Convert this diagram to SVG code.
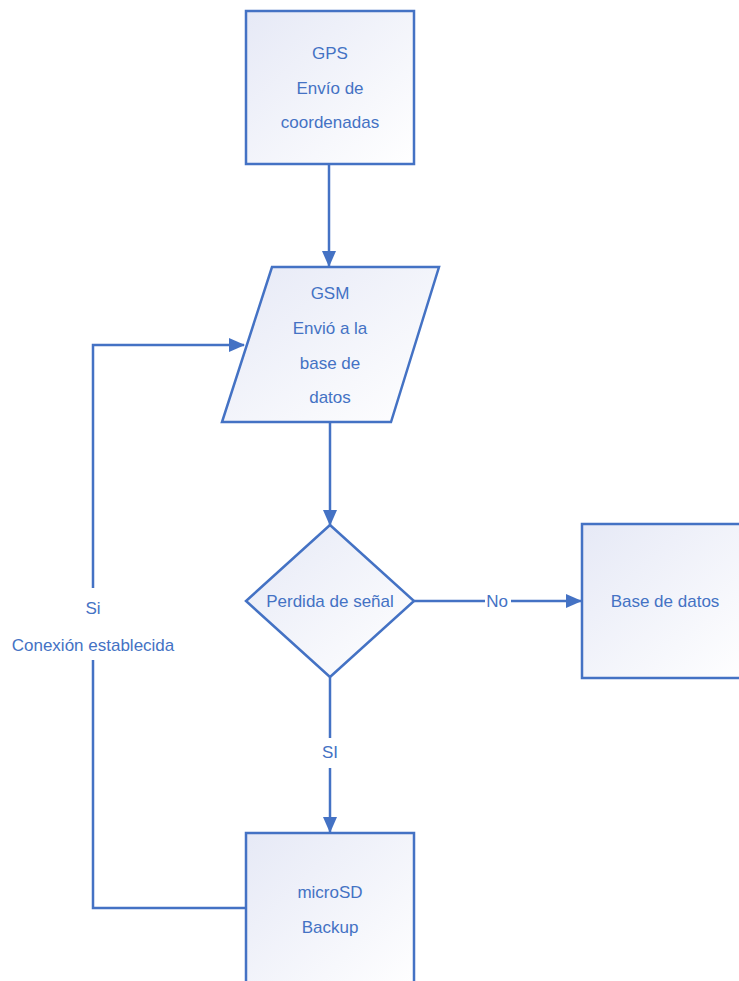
<svg xmlns="http://www.w3.org/2000/svg" width="739" height="981" viewBox="0 0 739 981">
<defs>
<linearGradient id="g" x1="0" y1="0" x2="1" y2="1">
<stop offset="0" stop-color="#e6e9f6"/>
<stop offset="1" stop-color="#ffffff"/>
</linearGradient>
<marker id="ah" markerWidth="16" markerHeight="14" refX="15" refY="7" orient="auto" markerUnits="userSpaceOnUse">
<path d="M0,0 L16,7 L0,14 Z" fill="#4472C4"/>
</marker>
<style>
.n{fill:url(#g);stroke:#4472C4;stroke-width:2.5}
.c{fill:none;stroke:#4472C4;stroke-width:2.5}
text{font-family:"Liberation Sans",Arial,sans-serif;font-size:17px;fill:#4472C4;text-anchor:middle}
</style>
</defs>
<rect width="739" height="981" fill="#ffffff"/>
<g id="connectors">
<line class="c" x1="329" y1="165" x2="329" y2="266" marker-end="url(#ah)"/>
<line class="c" x1="330" y1="422" x2="330" y2="525" marker-end="url(#ah)"/>
<line class="c" x1="414" y1="601" x2="485" y2="601"/>
<line class="c" x1="511" y1="601" x2="581" y2="601" marker-end="url(#ah)"/>
<line class="c" x1="330" y1="677" x2="330" y2="738"/>
<line class="c" x1="330" y1="768" x2="330" y2="832" marker-end="url(#ah)"/>
<polyline class="c" points="246,908 93,908 93,660"/>
<polyline class="c" points="93,588 93,345 244,345" marker-end="url(#ah)"/>
<text x="497" y="607">No</text>
<text x="330" y="758">SI</text>
<text x="93" y="614">Si</text>
<text x="93" y="651">Conexión establecida</text>
</g>
<g id="gps">
<rect class="n" x="246" y="11" width="168" height="153"/>
<text x="330" y="59">GPS</text>
<text x="330" y="94">Envío de</text>
<text x="330" y="128">coordenadas</text>
</g>
<g id="gsm">
<polygon class="n" points="272,267 439,267 391,422 222,422"/>
<text x="330" y="299">GSM</text>
<text x="330" y="334">Envió a la</text>
<text x="330" y="369">base de</text>
<text x="330" y="403">datos</text>
</g>
<g id="decision">
<polygon class="n" points="330,525 414,601 330,677 246,601"/>
<text x="330" y="607">Perdida de señal</text>
</g>
<g id="basedatos">
<rect class="n" x="582" y="524" width="170" height="154"/>
<text x="665" y="607">Base de datos</text>
</g>
<g id="microsd">
<rect class="n" x="246" y="833" width="168" height="160"/>
<text x="330" y="898">microSD</text>
<text x="330" y="933">Backup</text>
</g>
</svg>
